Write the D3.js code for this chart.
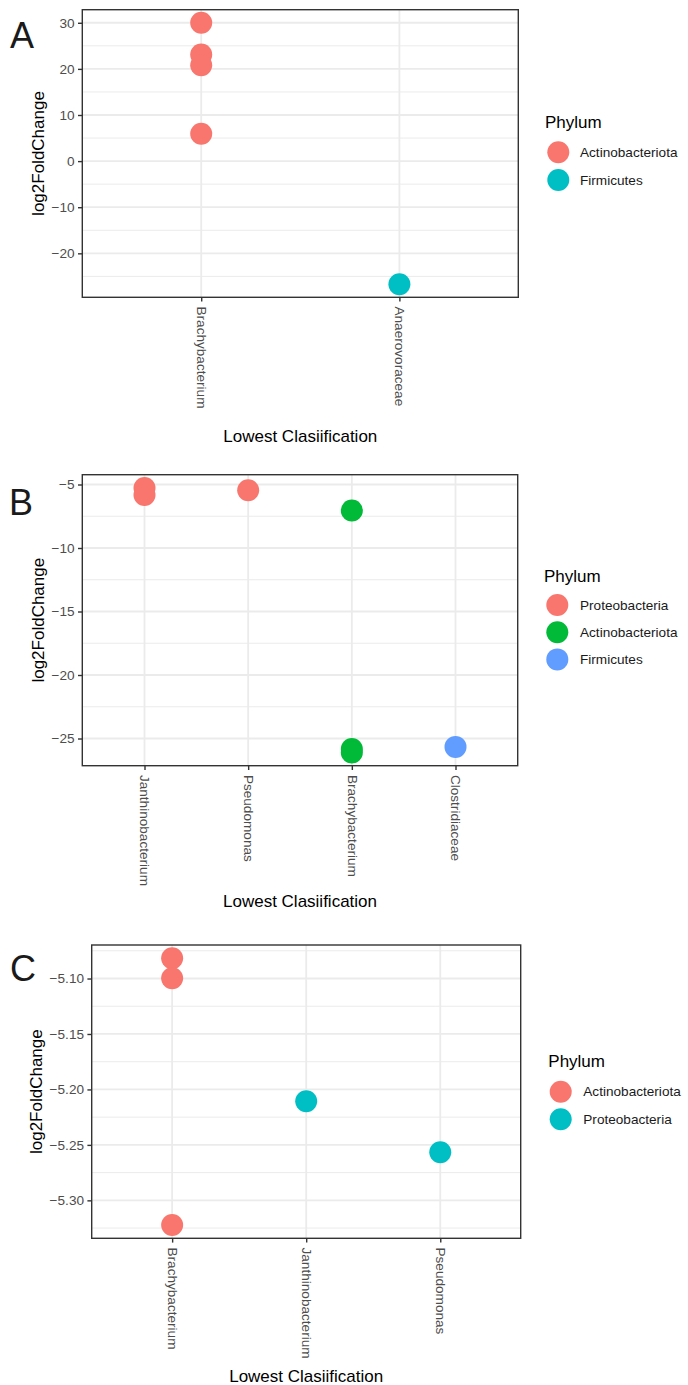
<!DOCTYPE html>
<html>
<head>
<meta charset="utf-8">
<script src="https://cdn.jsdelivr.net/npm/d3@7"></script>
<style>
  html, body { margin: 0; padding: 0; background: #ffffff; }
  svg { display: block; font-family: "Liberation Sans", Arial, sans-serif; }
</style>
</head>
<body>
<svg id="chart" width="688" height="1385"></svg>
<script>
// ---------------- DATA ----------------
// Panel A
const catsA = ["Brachybacterium", "Anaerovoraceae"];
const taxaA = ["Brachybacterium", "Brachybacterium", "Brachybacterium", "Brachybacterium", "Anaerovoraceae"];
const valuesA = [30.0, 23.1, 20.8, 5.95, -26.7];
const phylumA = ["Actinobacteriota", "Actinobacteriota", "Actinobacteriota", "Actinobacteriota", "Firmicutes"];
const phylaA = ["Actinobacteriota", "Firmicutes"];
const ticksA = [-20, -10, 0, 10, 20, 30];

// Panel B
const catsB = ["Janthinobacterium", "Pseudomonas", "Brachybacterium", "Clostridiaceae"];
const taxaB = ["Janthinobacterium", "Janthinobacterium", "Pseudomonas", "Brachybacterium", "Brachybacterium", "Brachybacterium", "Clostridiaceae"];
const valuesB = [-5.27, -5.82, -5.45, -7.05, -25.82, -26.1, -25.66];
const phylumB = ["Proteobacteria", "Proteobacteria", "Proteobacteria", "Actinobacteriota", "Actinobacteriota", "Actinobacteriota", "Firmicutes"];
const phylaB = ["Proteobacteria", "Actinobacteriota", "Firmicutes"];
const ticksB = [-25, -20, -15, -10, -5];

// Panel C
const catsC = ["Brachybacterium", "Janthinobacterium", "Pseudomonas"];
const taxaC = ["Brachybacterium", "Brachybacterium", "Brachybacterium", "Janthinobacterium", "Pseudomonas"];
const valuesC = [-5.0818, -5.0997, -5.3222, -5.2107, -5.2566];
const phylumC = ["Actinobacteriota", "Actinobacteriota", "Actinobacteriota", "Proteobacteria", "Proteobacteria"];
const phylaC = ["Actinobacteriota", "Proteobacteria"];
const ticksC = [-5.30, -5.25, -5.20, -5.15, -5.10];

const hue2 = ["#F8766D", "#00BFC4"];
const hue3 = ["#F8766D", "#00BA38", "#619CFF"];

// ---------------- LAYOUT ----------------
const svg = d3.select("#chart");
svg.append("rect").attr("width", 688).attr("height", 1385).attr("fill", "#ffffff");

const panels = [
  { letter: "A", lx: 10, ly: 48, cats: catsA, taxa: taxaA, vals: valuesA, phy: phylumA, phyla: phylaA, ticks: ticksA, fmt: d3.format(""),
    box: { l: 82.3, r: 518.3, t: 9.7, b: 297.3 }, xtitleY: 441.7,
    leg: { tx: 545, ty: 128.3, cx: 558.3, cy0: 152.3, step: 27.7, lx: 580 }, colors: hue2 },
  { letter: "B", lx: 9, ly: 515, cats: catsB, taxa: taxaB, vals: valuesB, phy: phylumB, phyla: phylaB, ticks: ticksB, fmt: d3.format(""),
    box: { l: 82.3, r: 517.7, t: 474.7, b: 765.7 }, xtitleY: 906.7,
    leg: { tx: 544, ty: 581.7, cx: 557.3, cy0: 605, step: 27.2, lx: 580 }, colors: hue3 },
  { letter: "C", lx: 10, ly: 980.5, cats: catsC, taxa: taxaC, vals: valuesC, phy: phylumC, phyla: phylaC, ticks: ticksC, fmt: d3.format(".2f"),
    box: { l: 91.7, r: 520.7, t: 945, b: 1238.3 }, xtitleY: 1381.7,
    leg: { tx: 548.3, ty: 1066.7, cx: 560.7, cy0: 1091.7, step: 27.6, lx: 583.3 }, colors: hue2 }
];

const tickLen = 4.3, tickPad = 3.4;

panels.forEach((p, pi) => {
  const B = p.box;
  const g = svg.append("g");

  // scales (ggplot-like expansion)
  const x = d3.scalePoint().domain(p.cats).range([B.l, B.r]).padding(0.6);
  const ext = d3.extent(p.vals);
  const span = ext[1] - ext[0];
  const y = d3.scaleLinear().domain([ext[0] - 0.05 * span, ext[1] + 0.05 * span]).range([B.b, B.t]);
  const color = d3.scaleOrdinal().domain(p.phyla).range(p.colors);

  // minor grid (midpoints)
  const step = p.ticks[1] - p.ticks[0];
  const minor = [];
  const dom = y.domain();
  for (let k = -2; k < p.ticks.length + 2; k++) {
    const v = p.ticks[0] + (k - 0.5) * step;
    if (v > dom[0] && v < dom[1]) minor.push(v);
  }
  g.append("g").selectAll("line").data(minor).join("line")
    .attr("x1", B.l).attr("x2", B.r)
    .attr("y1", d => y(d)).attr("y2", d => y(d))
    .attr("stroke", "#EBEBEB").attr("stroke-width", 1);

  // major grid
  g.append("g").selectAll("line").data(p.ticks).join("line")
    .attr("x1", B.l).attr("x2", B.r)
    .attr("y1", d => y(d)).attr("y2", d => y(d))
    .attr("stroke", "#EBEBEB").attr("stroke-width", 1.8);
  g.append("g").selectAll("line").data(p.cats).join("line")
    .attr("x1", d => x(d)).attr("x2", d => x(d))
    .attr("y1", B.t).attr("y2", B.b)
    .attr("stroke", "#EBEBEB").attr("stroke-width", 1.8);

  // points
  const clipId = "clip" + pi;
  g.append("clipPath").attr("id", clipId).append("rect")
    .attr("x", B.l).attr("y", B.t).attr("width", B.r - B.l).attr("height", B.b - B.t);
  g.append("g").attr("clip-path", `url(#${clipId})`)
    .selectAll("circle").data(p.vals.map((v, i) => ({ v, t: p.taxa[i], ph: p.phy[i] }))).join("circle")
    .attr("cx", d => x(d.t)).attr("cy", d => y(d.v)).attr("r", 11)
    .attr("fill", d => color(d.ph));

  // panel border
  g.append("rect").attr("x", B.l).attr("y", B.t).attr("width", B.r - B.l).attr("height", B.b - B.t)
    .attr("fill", "none").attr("stroke", "#333333").attr("stroke-width", 1.4);

  // y axis
  const ya = g.append("g").attr("transform", `translate(${B.l},0)`)
    .call(d3.axisLeft(y).tickValues(p.ticks).tickFormat(p.fmt).tickSize(tickLen).tickPadding(tickPad).tickSizeOuter(0));
  ya.select(".domain").remove();
  ya.selectAll(".tick line").attr("stroke", "#333333").attr("stroke-width", 1.4);
  ya.selectAll(".tick text").attr("fill", "#4D4D4D").style("font-size", "13.6px")
    .style("font-family", "'Liberation Sans', Arial, sans-serif");

  // x axis
  const xa = g.append("g").attr("transform", `translate(0,${B.b})`)
    .call(d3.axisBottom(x).tickSize(tickLen).tickSizeOuter(0));
  xa.select(".domain").remove();
  xa.selectAll(".tick line").attr("stroke", "#333333").attr("stroke-width", 1.4);
  xa.selectAll(".tick text")
    .attr("fill", "#4D4D4D").style("font-size", "13.6px")
    .style("font-family", "'Liberation Sans', Arial, sans-serif")
    .attr("transform", "rotate(90)")
    .attr("text-anchor", "start")
    .attr("x", tickLen + tickPad + 1.5).attr("y", 0).attr("dy", "0.35em");

  // y title
  const yb = ya.node().getBBox();
  const yLeft = B.l + yb.x;
  g.append("text")
    .attr("transform", `translate(${yLeft - 4.3 - 3.6},${(B.t + B.b) / 2}) rotate(-90)`)
    .attr("text-anchor", "middle").attr("fill", "#000000")
    .style("font-size", "17px").text("log2FoldChange");

  // x title
  g.append("text").attr("x", (B.l + B.r) / 2).attr("y", p.xtitleY)
    .attr("text-anchor", "middle").attr("fill", "#000000")
    .style("font-size", "17px").text("Lowest Clasiification");

  // panel letter
  g.append("text").attr("x", p.lx).attr("y", p.ly).attr("fill", "#1a1a1a")
    .style("font-size", "36px").text(p.letter);

  // legend
  const L = p.leg;
  g.append("text").attr("x", L.tx).attr("y", L.ty).attr("fill", "#000000")
    .style("font-size", "17px").text("Phylum");
  const items = g.append("g").selectAll("g").data(p.phyla).join("g")
    .attr("transform", (d, i) => `translate(0,${L.cy0 + i * L.step})`);
  items.append("circle").attr("cx", L.cx).attr("cy", 0).attr("r", 11).attr("fill", d => color(d));
  items.append("text").attr("x", L.lx).attr("y", 0).attr("dy", "0.35em").attr("fill", "#1a1a1a")
    .style("font-size", "13.6px").text(d => d);
});
</script>
</body>
</html>
